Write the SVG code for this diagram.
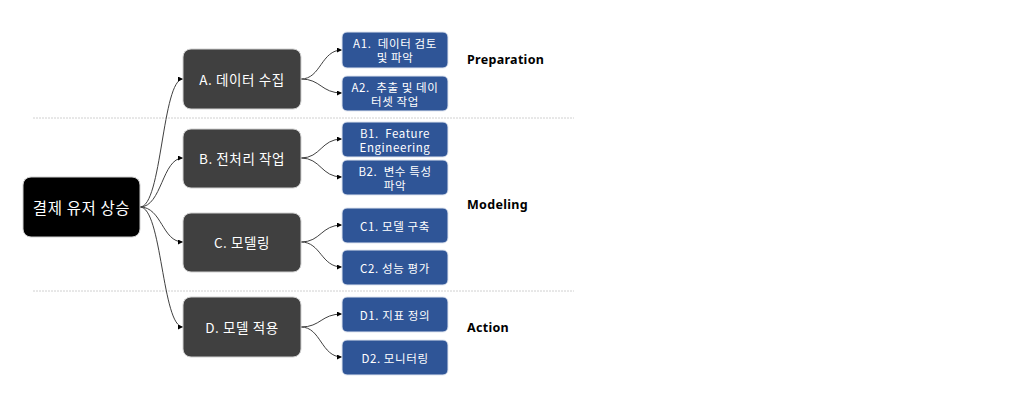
<svg xmlns="http://www.w3.org/2000/svg" width="1013" height="412" viewBox="0 0 1013 412">
<defs>
<marker id="ah" viewBox="0 0 6 6" refX="6" refY="3" markerWidth="5" markerHeight="5" orient="auto" markerUnits="userSpaceOnUse"><path d="M0,0 L6,3 L0,6 z" fill="#000"/></marker>
<style>
.t{font-family:"Noto Sans CJK KR","Noto Sans",sans-serif;font-weight:normal;fill:#fff;text-anchor:middle;dominant-baseline:central;white-space:pre;letter-spacing:0.6px}
.root{fill:#000;stroke:#cfcfcf;stroke-width:1}
.g{fill:#404040;stroke:#d0d0d0;stroke-width:1}
.b{fill:#2F5597;stroke:#dfe5f0;stroke-width:1}
.c{fill:none;stroke:#404040;stroke-width:1;marker-end:url(#ah)}
.sep{stroke:#d0d0d0;stroke-width:1;stroke-dasharray:2,1}
.lab{font-family:"Noto Sans","Noto Sans CJK KR",sans-serif;font-weight:bold;font-size:12.5px;fill:#000;dominant-baseline:central;letter-spacing:0.3px}
</style>
</defs>
<rect width="1013" height="412" fill="#fff"/>
<g id="separators">
<line class="sep" x1="33" y1="118" x2="574" y2="118"/>
<line class="sep" x1="33" y1="291" x2="574" y2="291"/>
</g>
<g id="connectors">
<path class="c" d="M140,207 C162,207 162,79 183,79"/>
<path class="c" d="M140,207 C162,207 162,158 183,158"/>
<path class="c" d="M140,207 C162,207 162,242 183,242"/>
<path class="c" d="M140,207 C162,207 162,327 183,327"/>
<path class="c" d="M301,79 C321,79 321,50 342,50"/>
<path class="c" d="M301,79 C321,79 321,93 342,93"/>
<path class="c" d="M301,158 C321,158 321,139 342,139"/>
<path class="c" d="M301,158 C321,158 321,177 342,177"/>
<path class="c" d="M301,242 C321,242 321,225 342,225"/>
<path class="c" d="M301,242 C321,242 321,267 342,267"/>
<path class="c" d="M301,327 C321,327 321,314 342,314"/>
<path class="c" d="M301,327 C321,327 321,357 342,357"/>
</g>
<g id="root"><rect class="root" x="23" y="177" width="117" height="60" rx="8"/><text class="t" x="81.5" y="207" font-size="15.5">결제 유저 상승</text></g>
<g id="A"><rect class="g" x="183" y="49" width="118" height="60" rx="8"/><text class="t" x="242" y="79" font-size="13.5">A. 데이터 수집</text></g>
<g id="B"><rect class="g" x="183" y="129" width="118" height="59" rx="8"/><text class="t" x="242" y="158" font-size="13.5">B. 전처리 작업</text></g>
<g id="C"><rect class="g" x="183" y="213" width="118" height="59" rx="8"/><text class="t" x="242" y="242" font-size="13.5">C. 모델링</text></g>
<g id="D"><rect class="g" x="183" y="297" width="118" height="60" rx="8"/><text class="t" x="242" y="327" font-size="13.5">D. 모델 적용</text></g>
<g id="A1"><rect class="b" x="342" y="32" width="106" height="36" rx="5"/><text class="t" x="395" y="43" font-size="11.5">A1.  데이터 검토</text><text class="t" x="395" y="57" font-size="11.5">및 파악</text></g>
<g id="A2"><rect class="b" x="342" y="76" width="106" height="35" rx="5"/><text class="t" x="395" y="86.5" font-size="11.5">A2.  추출 및 데이</text><text class="t" x="395" y="100.5" font-size="11.5">터셋 작업</text></g>
<g id="B1"><rect class="b" x="342" y="122" width="106" height="35" rx="5"/><text class="t" x="395" y="132.5" font-size="11.5">B1.  Feature</text><text class="t" x="395" y="146.5" font-size="11.5">Engineering</text></g>
<g id="B2"><rect class="b" x="342" y="160" width="106" height="35" rx="5"/><text class="t" x="395" y="170.5" font-size="11.5">B2.  변수 특성</text><text class="t" x="395" y="184.5" font-size="11.5">파악</text></g>
<g id="C1"><rect class="b" x="342" y="208" width="106" height="35" rx="5"/><text class="t" x="395" y="225.5" font-size="11.5">C1. 모델 구축</text></g>
<g id="C2"><rect class="b" x="342" y="250" width="106" height="35" rx="5"/><text class="t" x="395" y="267.5" font-size="11.5">C2. 성능 평가</text></g>
<g id="D1"><rect class="b" x="342" y="297" width="106" height="35" rx="5"/><text class="t" x="395" y="314.5" font-size="11.5">D1. 지표 정의</text></g>
<g id="D2"><rect class="b" x="342" y="340" width="106" height="35" rx="5"/><text class="t" x="395" y="357.5" font-size="11.5">D2. 모니터링</text></g>
<g id="labels">
<text class="lab" x="467" y="59">Preparation</text>
<text class="lab" x="467" y="204">Modeling</text>
<text class="lab" x="467" y="327">Action</text>
</g>
</svg>
